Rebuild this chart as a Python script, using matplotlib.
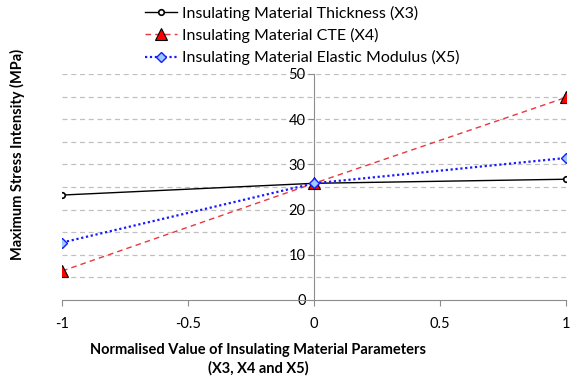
import numpy as np
import matplotlib
matplotlib.use("Agg")
import matplotlib.pyplot as plt

plt.rcParams['font.family'] = ['Lato', 'DejaVu Sans']

# normalised parameter values and max stress intensity (MPa)
x_vals = [-1, 0, 1]
thickness = [23.2, 25.8, 26.7]
cte = [6.4, 25.8, 44.8]
elastic = [12.7, 25.8, 31.4]

labels = ['Insulating Material Thickness (X3)',
          'Insulating Material CTE (X4)',
          'Insulating Material Elastic Modulus (X5)']

fig = plt.figure(figsize=(5.7, 3.85), dpi=100)
ax = fig.add_axes([0.109, 0.221, 0.884, 0.587])

h1, = ax.plot(x_vals, thickness, color='black', lw=1.0, marker='o', ms=4,
              mfc='white', mec='black', mew=1.2, zorder=3)
h2, = ax.plot(x_vals, cte, color='#e8383d', lw=1.0, ls=(0, (4, 3)), marker='^', ms=8,
              mfc='#ff0000', mec='black', mew=0.8, zorder=4)
h3, = ax.plot(x_vals, elastic, color='#1a1aff', lw=1.6, ls=(0, (1, 1.2)), marker='D', ms=5,
              mfc='#99ccff', mec='#1a1aff', mew=1.0, zorder=5)

ax.set_xlim(-1, 1)
ax.set_ylim(0, 50)
ax.set_xticks([-1, -0.5, 0, 0.5, 1])
ax.set_xticklabels(['-1', '-0.5', '0', '0.5', '1'])
ax.set_yticks(np.arange(0, 51, 10))
ax.set_yticks(np.arange(5, 50, 10), minor=True)

# dashed grid every 5
for yv in np.arange(5, 51, 5):
    ax.axhline(yv, color='#c0c0c0', lw=0.9, ls=(0, (4, 3)), zorder=1)

for s in ['top', 'right']:
    ax.spines[s].set_visible(False)
ax.spines['left'].set_position(('data', 0))
ax.spines['left'].set_color('#8c8c8c')
ax.spines['bottom'].set_color('#8c8c8c')
ax.tick_params(axis='y', which='major', direction='out', length=4, color='#8c8c8c',
               labelsize=10.5, pad=2)
ax.tick_params(axis='y', which='minor', length=0)
ax.tick_params(axis='x', direction='out', length=4, color='#8c8c8c', labelsize=10.5, pad=8)

fig.text(0.453, 0.067, 'Normalised Value of Insulating Material Parameters\n(X3, X4 and X5)',
         ha='center', va='center', fontsize=10.5, fontweight='bold', linespacing=1.3)
fig.text(0.03, 0.6, 'Maximum Stress Intensity (MPa)', rotation=90, ha='center', va='center',
         fontsize=10.5, fontweight='bold')

fig.legend([h1, h2, h3], labels, loc='upper left', bbox_to_anchor=(0.238, 1.01),
           frameon=False, fontsize=11.5, handlelength=2.0, labelspacing=0.45,
           handletextpad=0.3, borderaxespad=0.2)

fig.savefig('out.png', dpi=100)
